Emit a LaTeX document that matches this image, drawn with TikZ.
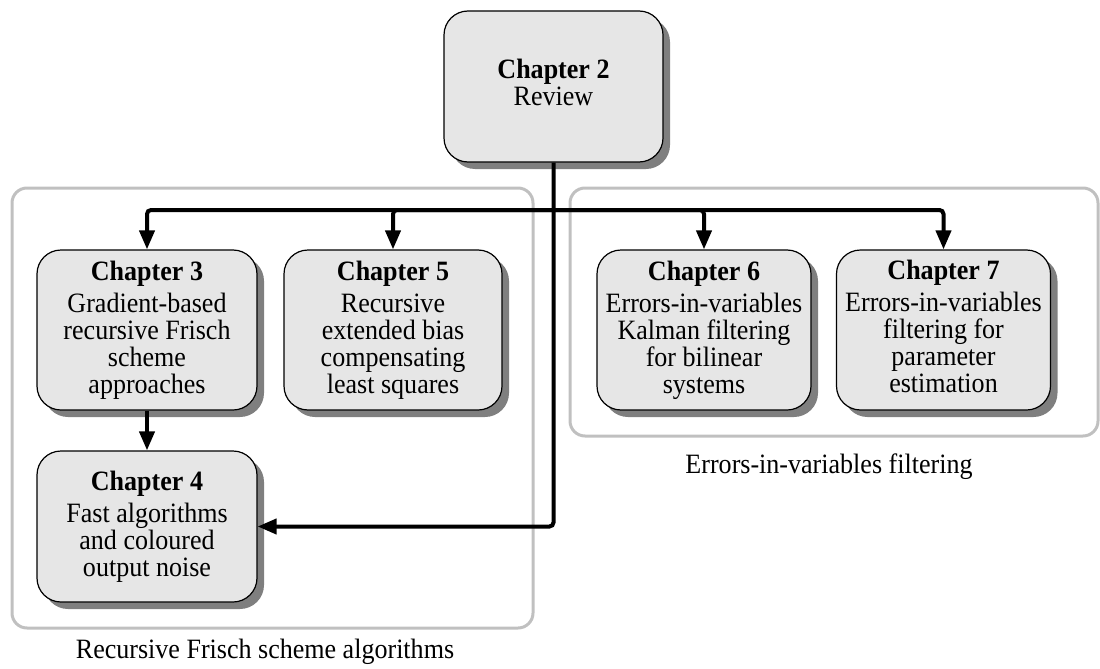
\documentclass[tikz,border=0pt]{standalone}
\usepackage{fontspec}
\setmainfont{Liberation Serif}[FakeStretch=0.93]
\usetikzlibrary{arrows.meta,shadows}
\definecolor{boxfill}{HTML}{E6E6E6}
\definecolor{shadowgray}{HTML}{7F7F7F}
\definecolor{groupgray}{HTML}{C0C0C0}
\tikzset{
  chapbox/.style={draw=black, line width=1.2pt, fill=boxfill, rounded corners=24pt,
    align=center, inner sep=0pt, minimum width=218pt, minimum height=160pt,
    font=\fontsize{28}{27}\selectfont,
    drop shadow={shadow xshift=7pt, shadow yshift=-7pt, fill=shadowgray, opacity=1}},
  groupbox/.style={draw=groupgray, line width=3pt, rounded corners=15pt},
  grouplabel/.style={anchor=base, inner sep=0pt, font=\fontsize{28}{27}\selectfont},
  conn/.style={line width=4pt, -{Triangle[length=19pt,width=15pt]}},
}
\begin{document}
\begin{tikzpicture}[x=1pt,y=-1pt]
\useasboundingbox (0,0) rectangle (1100,669);
% groups
\draw[groupbox] (12,188) rectangle (533,628);
\draw[groupbox] (570,188) rectangle (1098,436);
\node[grouplabel] (glab1) at (265,658) {Recursive Frisch scheme algorithms};
\node[grouplabel] (glab2) at (829,473) {Errors-in-variables filtering};
% chapters
\node[chapbox, minimum width=219pt, minimum height=151pt] (ch2) at (553.5,86.5)
  {\textbf{Chapter 2}\\Review\strut};
\node[chapbox, minimum width=220pt] (ch3) at (147,330)
  {\textbf{Chapter 3}\\[5pt]Gradient-based\\recursive Frisch\\scheme\\approaches};
\node[chapbox] (ch5) at (393,330)
  {\textbf{Chapter 5}\\[5pt]Recursive\\extended bias\\compensating\\least squares};
\node[chapbox, minimum width=214pt] (ch6) at (704,330)
  {\textbf{Chapter 6}\\[5pt]Errors-in-variables\\Kalman filtering\\for bilinear\\systems};
\node[chapbox, minimum width=214pt] (ch7) at (943.5,330)
  {\textbf{Chapter 7}\\[5pt]Errors-in-variables\\filtering for\\parameter\\estimation\strut};
\node[chapbox, minimum width=220pt, minimum height=151pt] (ch4) at (147,526.5)
  {\textbf{Chapter 4}\\[5pt]Fast algorithms\\and coloured\\output noise};
% connectors
\coordinate (j) at (553.5,210);
\draw[conn, rounded corners=4pt] (j) -| (ch3.north);
\draw[conn, rounded corners=4pt] (j) -| (ch5.north);
\draw[conn, rounded corners=4pt] (j) -| (ch6.north);
\draw[conn, rounded corners=4pt] (j) -| (ch7.north);
\draw[conn, rounded corners=4pt] (ch2.south) |- (ch4.east);
\draw[conn] (ch3.south) -- (ch4.north);
\end{tikzpicture}
\end{document}
